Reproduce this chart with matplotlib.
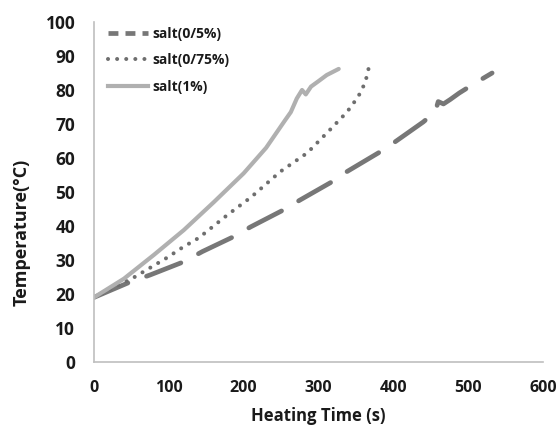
import matplotlib
matplotlib.use("Agg")
import matplotlib.pyplot as plt
from matplotlib.lines import Line2D

# Data
t_05 = [0, 48, 75, 119, 145, 186, 209, 253, 275, 318, 338, 380, 402, 440, 456, 460, 467, 476, 488, 509, 532]
T_05 = [19, 23.5, 25.6, 29.4, 32.5, 36.8, 39.7, 44.7, 47.6, 53, 56, 61.5, 64.7, 70.6, 73.6, 76.6, 75.9, 77.2, 79.1, 82, 85]

t_075 = [0, 52, 97, 119, 140, 178, 210, 249, 285, 314, 338, 353, 362, 365, 367]
T_075 = [19, 24.7, 30.6, 33.8, 36.5, 43.2, 48.5, 56, 61.5, 68, 73.5, 78, 82, 84.4, 86.4]

t_1 = [0, 40, 80, 120, 160, 200, 230, 255, 263, 271, 278, 283, 290, 300, 311, 327]
T_1 = [19, 24.5, 31.5, 38.8, 47, 55.5, 63, 71, 73.5, 77.5, 80, 78.7, 81, 82.6, 84.4, 86.2]

labels = ["salt(0/5%)", "salt(0/75%)", "salt(1%)"]
xticks = [0, 100, 200, 300, 400, 500, 600]
yticks = [0, 10, 20, 30, 40, 50, 60, 70, 80, 90, 100]

plt.rcParams['font.family'] = ['Open Sans', 'DejaVu Sans']

W, H = 559, 426
fig = plt.figure(figsize=(W / 100, H / 100), dpi=100)
ax = fig.add_axes([94 / W, 64 / H, 449 / W, 340 / H])

c_dash = "#777777"
c_dot = "#6e6e6e"
c_solid = "#b0b0b0"
c_text = "#1a1a1a"

ax.plot(t_05, T_05, color=c_dash, lw=3.4, linestyle=(0, (7.8, 4.2)),
        dash_capstyle='round', solid_capstyle='round')
ax.plot(t_075, T_075, color=c_dot, lw=2.9, linestyle=(0, (0.01, 2.25)),
        dash_capstyle='round')
ax.plot(t_1, T_1, color=c_solid, lw=3.0, solid_capstyle='round')

ax.set_xlim(0, 600)
ax.set_ylim(0, 100)
ax.set_xticks(xticks)
ax.set_yticks(yticks)
ax.set_xticklabels([str(v) for v in xticks], fontsize=11.5, fontweight='bold', color=c_text)
ax.set_yticklabels([str(v) for v in yticks], fontsize=12.5, fontweight='bold', color=c_text)
ax.tick_params(axis='both', length=0)
ax.tick_params(axis='y', pad=13.5)
ax.tick_params(axis='x', pad=13)

for s in ['top', 'right']:
    ax.spines[s].set_visible(False)
for s in ['left', 'bottom']:
    ax.spines[s].set_color('#bfbfbf')
    ax.spines[s].set_linewidth(1.2)

ax.set_xlabel("Heating Time (s)", fontsize=12, fontweight='bold', color=c_text)
ax.set_ylabel("Temperature(°C)", fontsize=13, fontweight='bold', color=c_text)
ax.xaxis.set_label_coords(0.5, (362 - 416) / 340)
ax.xaxis.label.set_va('center')
ax.yaxis.set_label_coords((22 - 94) / 449, (362 - 232) / 340)
ax.yaxis.label.set_va('center')
ax.yaxis.label.set_ha('center')

handles = [
    Line2D([], [], color=c_dash, lw=3.4, linestyle=(0, (2.1, 1.5)), dash_capstyle='butt'),
    Line2D([], [], color=c_dot, lw=2.9, linestyle=(0, (0.01, 2.25)), dash_capstyle='round'),
    Line2D([], [], color=c_solid, lw=3.0),
]
leg = ax.legend(handles, labels, loc='upper left', bbox_to_anchor=(0.031, 0.985),
                frameon=False, borderaxespad=0, borderpad=0,
                handlelength=2.9, handletextpad=0.3, labelspacing=0.88,
                prop={'family': ['Open Sans', 'DejaVu Sans'], 'weight': 'bold', 'size': 10})
for txt in leg.get_texts():
    txt.set_color(c_text)

fig.savefig("out.png", dpi=100, facecolor='white')
